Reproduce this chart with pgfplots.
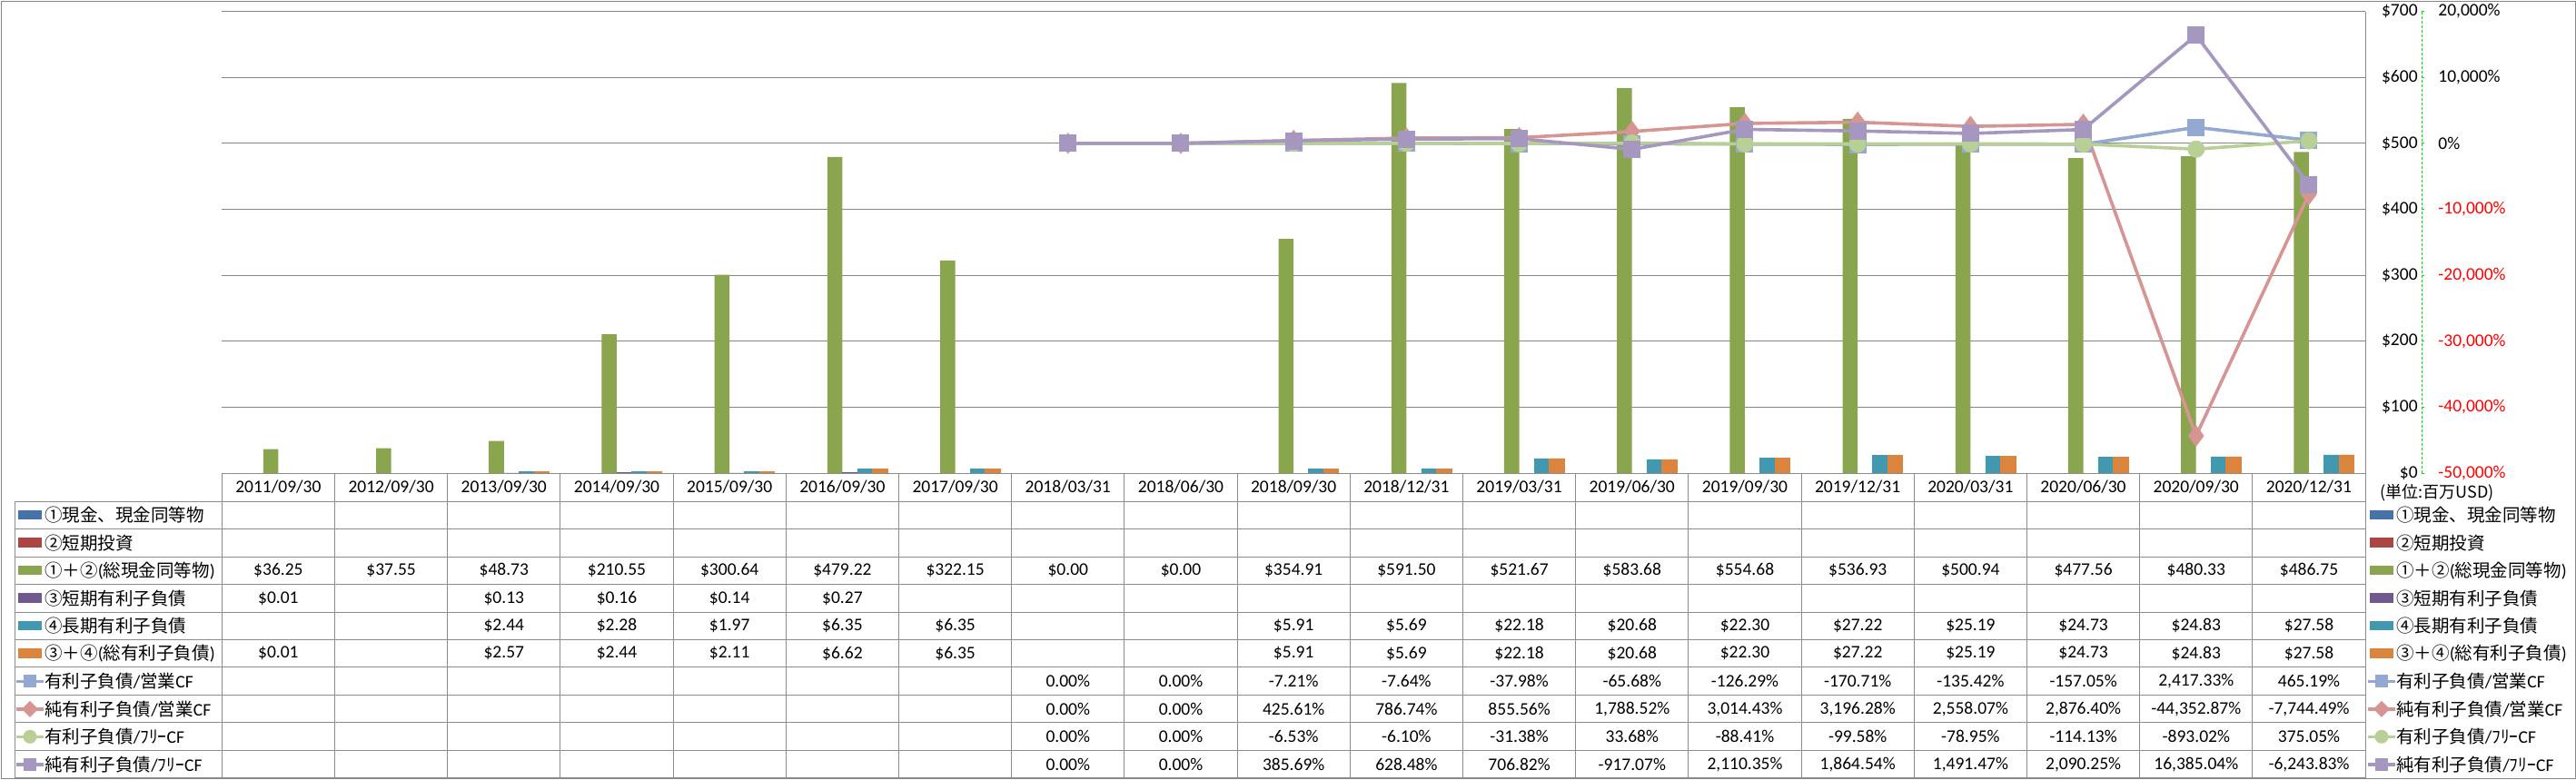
\documentclass[border=0pt]{standalone}
\usepackage{fontspec}
\setmainfont{Carlito}
\newfontfamily\jp{Noto Sans CJK JP}
\usepackage{pgfplots}
\pgfplotsset{compat=1.18}
\definecolor{bA}{HTML}{4572A7}
\definecolor{bB}{HTML}{AA4643}
\definecolor{bC}{HTML}{89A54E}
\definecolor{bD}{HTML}{71588F}
\definecolor{bE}{HTML}{4198AF}
\definecolor{bF}{HTML}{DB843D}
\definecolor{lA}{HTML}{93A9D2}
\definecolor{lB}{HTML}{D69593}
\definecolor{lC}{HTML}{B8CF96}
\definecolor{lD}{HTML}{A597C0}
\definecolor{gridgray}{HTML}{868686}
\definecolor{tgray}{HTML}{8C8C8C}
\definecolor{axgreen}{HTML}{00E000}
\newcommand\numfont{\fontsize{9.75pt}{11pt}\selectfont}
\newcommand\trow[2]{\foreach \v [count=\i from 0] in {#2} {\node[anchor=center, inner sep=0pt] at ({244.3+124.2*(\i+0.5)},#1) {\v};}}
\begin{document}
\begin{tikzpicture}
\path[use as bounding box] (0,0) rectangle (1418pt,-429pt);
\draw[gridgray, line width=0.5pt] (0.5pt,-0.5pt) rectangle (1417.5pt,-428.5pt);

\begin{axis}[at={(122.15pt,-260.5pt)}, anchor=south west, scale only axis,
  width=1179.85pt, height=254.25pt,
  xmin=-0.5, xmax=18.5, ymin=0, ymax=700,
  ytick={0,100,...,700},
  yticklabels={\$0,\$100,\$200,\$300,\$400,\$500,\$600,\$700},
  yticklabel pos=right,
  yticklabel style={anchor=east, inner xsep=0pt, inner ysep=0pt, xshift=29pt, font=\numfont},
  ymajorgrids, grid style={gridgray, line width=0.5pt},
  xtick={0,...,18},
  xticklabels={2011/09/30,2012/09/30,2013/09/30,2014/09/30,2015/09/30,2016/09/30,2017/09/30,2018/03/31,2018/06/30,2018/09/30,2018/12/31,2019/03/31,2019/06/30,2019/09/30,2019/12/31,2020/03/31,2020/06/30,2020/09/30,2020/12/31},
  xticklabel style={anchor=center, yshift=-7.75pt, font=\numfont},
  major tick length=0pt, axis line style={draw=none}, clip=false,
  /pgf/number format/assume math mode=true]
\addplot[ybar, bar width=0.1333, bar shift=-0.0667, fill=bC, draw=none] coordinates {(0,36.25)(1,37.55)(2,48.73)(3,210.55)(4,300.64)(5,479.22)(6,322.15)(7,0)(8,0)(9,354.91)(10,591.50)(11,521.67)(12,583.68)(13,554.68)(14,536.93)(15,500.94)(16,477.56)(17,480.33)(18,486.75)};
\addplot[ybar, bar width=0.1333, bar shift=0.0667, fill=bD, draw=bD, line width=0.4pt] coordinates {(0,0.01)(2,0.13)(3,0.16)(4,0.14)(5,0.27)};
\addplot[ybar, bar width=0.1333, bar shift=0.2, fill=bE, draw=bE, line width=0.4pt] coordinates {(2,2.44)(3,2.28)(4,1.97)(5,6.35)(6,6.35)(9,5.91)(10,5.69)(11,22.18)(12,20.68)(13,22.30)(14,27.22)(15,25.19)(16,24.73)(17,24.83)(18,27.58)};
\addplot[ybar, bar width=0.1333, bar shift=0.3333, fill=bF, draw=bF, line width=0.4pt] coordinates {(0,0.01)(2,2.57)(3,2.44)(4,2.11)(5,6.62)(6,6.35)(9,5.91)(10,5.69)(11,22.18)(12,20.68)(13,22.30)(14,27.22)(15,25.19)(16,24.73)(17,24.83)(18,27.58)};
\end{axis}

\begin{axis}[at={(122.15pt,-260.5pt)}, anchor=south west, scale only axis,
  width=1179.85pt, height=254.25pt,
  xmin=-0.5, xmax=18.5, ymin=-50000, ymax=20000,
  ytick={-50000,-40000,...,20000},
  yticklabels={\textcolor{red}{-50,000\%},\textcolor{red}{-40,000\%},\textcolor{red}{-30,000\%},\textcolor{red}{-20,000\%},\textcolor{red}{-10,000\%},0\%,{10,000\%},{20,000\%}},
  yticklabel pos=right,
  yticklabel style={anchor=west, inner xsep=0pt, inner ysep=0pt, xshift=40pt, font=\numfont},
  xtick=\empty, major tick length=0pt, axis line style={draw=none}, clip=false,
  /pgf/number format/assume math mode=true]
\draw[axgreen, line width=0.5pt, dash pattern=on 1.5pt off 1pt] ([xshift=31pt]rel axis cs:1,0) -- ([xshift=31pt]rel axis cs:1,1);
\pgfplotsinvokeforeach{-50000,-40000,-30000,-20000,-10000,0,10000,20000}{\draw[axgreen, line width=0.5pt] ([xshift=31pt]axis cs:18.5,#1) -- ([xshift=32.5pt]axis cs:18.5,#1);}
\addplot[color=lA, line width=1.8pt, mark=square*, mark size=4.5pt, mark options={fill=lA, draw=lA, line width=0.5pt}] coordinates {(7,0)(8,0)(9,-7.21)(10,-7.64)(11,-37.98)(12,-65.68)(13,-126.29)(14,-170.71)(15,-135.42)(16,-157.05)(17,2417.33)(18,465.19)};
\addplot[color=lB, line width=1.8pt, mark=diamond*, mark size=5.5pt, mark options={fill=lB, draw=lB, line width=0.5pt}] coordinates {(7,0)(8,0)(9,425.61)(10,786.74)(11,855.56)(12,1788.52)(13,3014.43)(14,3196.28)(15,2558.07)(16,2876.40)(17,-44352.87)(18,-7744.49)};
\addplot[color=lC, line width=1.8pt, mark=*, mark size=4.5pt, mark options={fill=lC, draw=lC, line width=0.5pt}] coordinates {(7,0)(8,0)(9,-6.53)(10,-6.10)(11,-31.38)(12,33.68)(13,-88.41)(14,-99.58)(15,-78.95)(16,-114.13)(17,-893.02)(18,375.05)};
\addplot[color=lD, line width=1.8pt, mark=square*, mark size=4.5pt, mark options={fill=lD, draw=lD, line width=0.5pt}] coordinates {(7,0)(8,0)(9,385.69)(10,628.48)(11,706.82)(12,-917.07)(13,2110.35)(14,1864.54)(15,1491.47)(16,2090.25)(17,16385.04)(18,-6243.83)};
\end{axis}

\begin{scope}[x=0.5pt, y=-0.5pt, font=\numfont]
% table grid
\draw[tgray, line width=0.5pt] (244.3,521) -- (2604,521);
\foreach \k in {0,...,10} {\draw[tgray, line width=0.5pt] (16.7,{552.3+30.44*\k}) -- (2604,{552.3+30.44*\k});}
\draw[tgray, line width=0.5pt] (16.7,552.3) -- (16.7,856.7);
\foreach \j in {0,...,18} {\draw[tgray, line width=0.5pt] ({244.3+124.2*\j},521) -- ({244.3+124.2*\j},856.7);}
\draw[tgray, line width=0.5pt] (2604,12.5) -- (2604,856.7);
% unit
\node[anchor=west, inner sep=0pt, font=\jp\fontsize{9pt}{10pt}\selectfont] at (2620,543) {(単位:百万USD)};
% legend keys (left and right)
\foreach \xo in {0,2589} {
  \fill[bA] (20+\xo,561.5) rectangle (45.7+\xo,572);
  \fill[bB] (20+\xo,592) rectangle (45.7+\xo,602.5);
  \fill[bC] (20+\xo,622.5) rectangle (45.7+\xo,633);
  \fill[bD] (20+\xo,653) rectangle (45.7+\xo,663.5);
  \fill[bE] (20+\xo,683.5) rectangle (45.7+\xo,694);
  \fill[bF] (20+\xo,714) rectangle (45.7+\xo,724.5);
  \draw[lA, line width=1.8pt] (18+\xo,750.3) -- (48+\xo,750.3);
  \fill[lA] (26+\xo,743.3) rectangle (40+\xo,757.3);
  \draw[lB, line width=1.8pt] (18+\xo,780.8) -- (48+\xo,780.8);
  \fill[lB] (33+\xo,771.8) -- (42+\xo,780.8) -- (33+\xo,789.8) -- (24+\xo,780.8) -- cycle;
  \draw[lC, line width=1.8pt] (18+\xo,811.3) -- (48+\xo,811.3);
  \fill[lC] (33+\xo,811.3) circle[radius=7.5];
  \draw[lD, line width=1.8pt] (18+\xo,841.7) -- (48+\xo,841.7);
  \fill[lD] (26+\xo,834.7) rectangle (40+\xo,848.7);
  \node[anchor=west, inner sep=0pt] at (49+\xo,567.5) {\jp ①現金、現金同等物};
  \node[anchor=west, inner sep=0pt] at (49+\xo,597.9) {\jp ②短期投資};
  \node[anchor=west, inner sep=0pt] at (49+\xo,628.4) {{\jp ①＋②}({\jp 総現金同等物})};
  \node[anchor=west, inner sep=0pt] at (49+\xo,658.8) {\jp ③短期有利子負債};
  \node[anchor=west, inner sep=0pt] at (49+\xo,689.3) {\jp ④長期有利子負債};
  \node[anchor=west, inner sep=0pt] at (49+\xo,719.7) {{\jp ③＋④}({\jp 総有利子負債})};
  \node[anchor=west, inner sep=0pt] at (49+\xo,750.3) {{\jp 有利子負債}/{\jp 営業}CF};
  \node[anchor=west, inner sep=0pt] at (49+\xo,780.8) {{\jp 純有利子負債}/{\jp 営業}CF};
  \node[anchor=west, inner sep=0pt] at (49+\xo,811.3) {{\jp 有利子負債}/{\jp ﾌﾘｰ}CF};
  \node[anchor=west, inner sep=0pt] at (49+\xo,841.7) {{\jp 純有利子負債}/{\jp ﾌﾘｰ}CF};
}
% table values
\trow{628.4}{\$36.25,\$37.55,\$48.73,\$210.55,\$300.64,\$479.22,\$322.15,\$0.00,\$0.00,\$354.91,\$591.50,\$521.67,\$583.68,\$554.68,\$536.93,\$500.94,\$477.56,\$480.33,\$486.75}
\trow{658.8}{\$0.01,{},\$0.13,\$0.16,\$0.14,\$0.27}
\trow{689.3}{{},{},\$2.44,\$2.28,\$1.97,\$6.35,\$6.35,{},{},\$5.91,\$5.69,\$22.18,\$20.68,\$22.30,\$27.22,\$25.19,\$24.73,\$24.83,\$27.58}
\trow{719.7}{\$0.01,{},\$2.57,\$2.44,\$2.11,\$6.62,\$6.35,{},{},\$5.91,\$5.69,\$22.18,\$20.68,\$22.30,\$27.22,\$25.19,\$24.73,\$24.83,\$27.58}
\trow{750.3}{{},{},{},{},{},{},{},0.00\%,0.00\%,-7.21\%,-7.64\%,-37.98\%,-65.68\%,-126.29\%,-170.71\%,-135.42\%,-157.05\%,{2,417.33\%},465.19\%}
\trow{780.8}{{},{},{},{},{},{},{},0.00\%,0.00\%,425.61\%,786.74\%,855.56\%,{1,788.52\%},{3,014.43\%},{3,196.28\%},{2,558.07\%},{2,876.40\%},{-44,352.87\%},{-7,744.49\%}}
\trow{811.3}{{},{},{},{},{},{},{},0.00\%,0.00\%,-6.53\%,-6.10\%,-31.38\%,33.68\%,-88.41\%,-99.58\%,-78.95\%,-114.13\%,-893.02\%,375.05\%}
\trow{841.7}{{},{},{},{},{},{},{},0.00\%,0.00\%,385.69\%,628.48\%,706.82\%,-917.07\%,{2,110.35\%},{1,864.54\%},{1,491.47\%},{2,090.25\%},{16,385.04\%},{-6,243.83\%}}
\end{scope}
\end{tikzpicture}
\end{document}
